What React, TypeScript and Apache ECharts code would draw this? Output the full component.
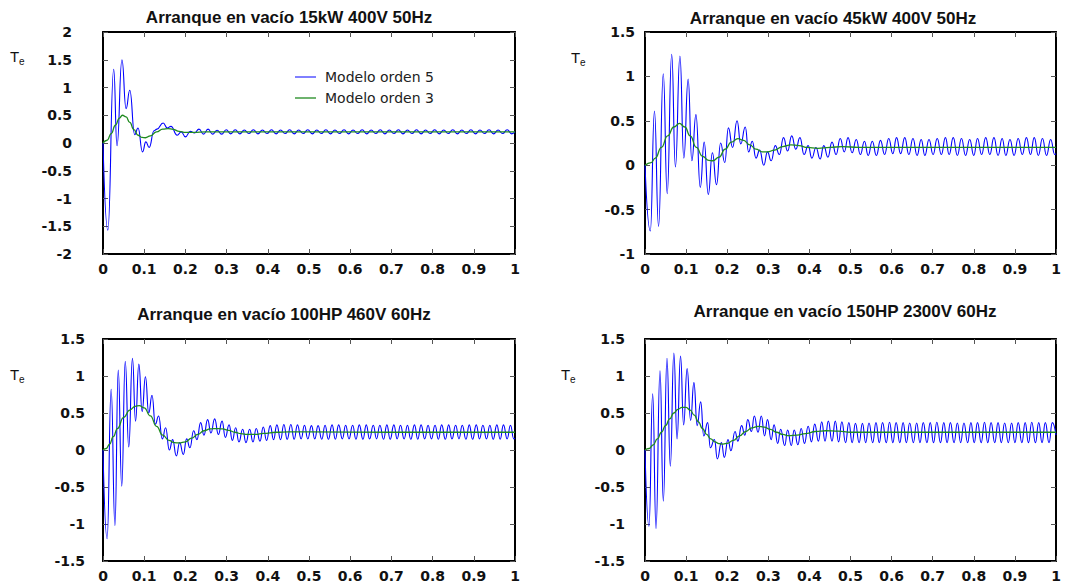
import React, { useEffect, useRef } from "react";
import * as echarts from "echarts";

// ---------- data ----------
const titles = [
  "Arranque en vacío 15kW 400V 50Hz",
  "Arranque en vacío 45kW 400V 50Hz",
  "Arranque en vacío 100HP 460V 60Hz",
  "Arranque en vacío 150HP 2300V 60Hz",
];
const seriesNames = ["Modelo orden 5", "Modelo orden 3"];
const yMins = [-2, -1, -1.5, -1.5];
const yMaxs = [2, 1.5, 1.5, 1.5];

const p1Blue: [number, number][] = [
  [0, 0], [0.0117, -1.57], [0.026, 1.33], [0.034, -0.05], [0.046, 1.5], [0.056, 0.62], [0.065, 0.95],
  [0.077, 0.15], [0.085, 0.27], [0.096, -0.16], [0.104, 0.02], [0.112, -0.08], [0.124, 0.22], [0.131, 0.25],
  [0.146, 0.36], [0.156, 0.27], [0.165, 0.3], [0.18, 0.14], [0.19, 0.2], [0.2, 0.11], [0.212, 0.21], [0.222, 0.18],
  [0.233, 0.25], [0.244, 0.16], [0.255, 0.25], [0.266, 0.16], [0.277, 0.23], [0.288, 0.16], [0.299, 0.24], [0.31, 0.165],
  [0.321, 0.24], [0.332, 0.165], [0.343, 0.235], [0.354, 0.17], [0.365, 0.24], [0.376, 0.165], [0.387, 0.235], [0.398, 0.17],
  [0.409, 0.24], [0.42, 0.165], [0.431, 0.235], [0.442, 0.17], [0.453, 0.24], [0.464, 0.165], [0.475, 0.235], [0.486, 0.17],
  [0.497, 0.24], [0.508, 0.165], [0.519, 0.235], [0.53, 0.17], [0.541, 0.24], [0.552, 0.165], [0.563, 0.235], [0.574, 0.17],
  [0.585, 0.24], [0.596, 0.165], [0.607, 0.235], [0.618, 0.17], [0.629, 0.24], [0.64, 0.165], [0.651, 0.235], [0.662, 0.17],
  [0.673, 0.24], [0.684, 0.165], [0.695, 0.235], [0.706, 0.17], [0.717, 0.24], [0.728, 0.165], [0.739, 0.235], [0.75, 0.17],
  [0.761, 0.24], [0.772, 0.165], [0.783, 0.235], [0.794, 0.17], [0.805, 0.24], [0.816, 0.165], [0.827, 0.235], [0.838, 0.17],
  [0.849, 0.24], [0.86, 0.165], [0.871, 0.235], [0.882, 0.17], [0.893, 0.24], [0.904, 0.165], [0.915, 0.235], [0.926, 0.17],
  [0.937, 0.24], [0.948, 0.165], [0.959, 0.235], [0.97, 0.17], [0.981, 0.24], [0.992, 0.165], [1.0, 0.2],
];
const p1Green: [number, number][] = [
  [0, 0], [0.01, 0.05], [0.02, 0.17], [0.03, 0.32], [0.04, 0.45], [0.047, 0.5], [0.056, 0.47], [0.065, 0.37],
  [0.075, 0.24], [0.085, 0.14], [0.095, 0.1], [0.103, 0.095], [0.115, 0.13], [0.13, 0.2], [0.145, 0.25], [0.158, 0.26],
  [0.17, 0.245], [0.185, 0.21], [0.2, 0.19], [0.22, 0.19], [0.25, 0.2], [0.3, 0.2], [0.5, 0.2], [1.0, 0.2],
];

const p2Blue: [number, number][] = [
  [0, 0], [0.013, -0.74], [0.023, 0.61], [0.033, -0.69], [0.0445, 1.03], [0.054, -0.32], [0.065, 1.25], [0.074, -0.02],
  [0.085, 1.23], [0.0945, 0.08], [0.105, 0.97], [0.114, 0.05], [0.124, 0.57], [0.1345, -0.25], [0.144, 0.26], [0.154, -0.33],
  [0.164, 0.14], [0.174, -0.22], [0.184, 0.25], [0.194, 0.03], [0.203, 0.42], [0.213, 0.2], [0.224, 0.5], [0.233, 0.24],
  [0.244, 0.43], [0.252, 0.15], [0.261, 0.27], [0.27, 0.08], [0.279, 0.17], [0.289, 0.0], [0.298, 0.15], [0.307, 0.05],
  [0.317, 0.22], [0.327, 0.12], [0.337, 0.31], [0.347, 0.16], [0.357, 0.33], [0.367, 0.18], [0.377, 0.31], [0.387, 0.12],
  [0.397, 0.22], [0.406, 0.08], [0.416, 0.2], [0.426, 0.07], [0.435, 0.22], [0.445, 0.09], [0.455, 0.26], [0.465, 0.12],
  [0.475, 0.3], [0.485, 0.15], [0.494, 0.31], [0.504, 0.14], [0.514, 0.29], [0.524, 0.12], [0.534, 0.27], [0.543, 0.11],
  [0.553, 0.27], [0.563, 0.11], [0.573, 0.28], [0.583, 0.12], [0.593, 0.3], [0.603, 0.13], [0.612, 0.31], [0.622, 0.13],
  [0.632, 0.31], [0.642, 0.12], [0.652, 0.3], [0.662, 0.11], [0.672, 0.29], [0.681, 0.11], [0.691, 0.29], [0.701, 0.12],
  [0.711, 0.3], [0.721, 0.12], [0.731, 0.31], [0.74, 0.12], [0.75, 0.31], [0.76, 0.11], [0.77, 0.3], [0.78, 0.11],
  [0.79, 0.29], [0.8, 0.11], [0.809, 0.3], [0.819, 0.12], [0.829, 0.31], [0.839, 0.12], [0.849, 0.31], [0.859, 0.11],
  [0.869, 0.3], [0.878, 0.11], [0.888, 0.29], [0.898, 0.11], [0.908, 0.3], [0.918, 0.12], [0.928, 0.31], [0.938, 0.12],
  [0.947, 0.31], [0.957, 0.11], [0.967, 0.3], [0.977, 0.11], [0.987, 0.29], [0.997, 0.12], [1.0, 0.13],
];
const p2Green: [number, number][] = [
  [0, 0], [0.015, 0.03], [0.025, 0.08], [0.04, 0.2], [0.055, 0.33], [0.07, 0.43], [0.084, 0.47], [0.097, 0.43],
  [0.11, 0.33], [0.125, 0.2], [0.14, 0.1], [0.155, 0.055], [0.165, 0.05], [0.18, 0.09], [0.195, 0.18], [0.21, 0.26],
  [0.226, 0.3], [0.24, 0.28], [0.255, 0.23], [0.27, 0.18], [0.285, 0.15], [0.298, 0.15], [0.315, 0.17], [0.335, 0.21],
  [0.355, 0.23], [0.375, 0.22], [0.395, 0.2], [0.42, 0.19], [0.45, 0.2], [0.48, 0.21], [0.52, 0.2], [0.7, 0.2], [1.0, 0.2],
];

const p3Blue: [number, number][] = [
  [0, 0], [0.01, -1.2], [0.0198, 0.82], [0.029, -1.02], [0.037, 1.08], [0.0455, -0.49], [0.054, 1.2], [0.0625, 0.04],
  [0.0715, 1.24], [0.079, 0.39], [0.087, 1.16], [0.095, 0.52], [0.103, 0.99], [0.111, 0.5], [0.119, 0.74], [0.127, 0.35],
  [0.135, 0.46], [0.144, 0.15], [0.152, 0.3], [0.161, 0.0], [0.169, 0.14], [0.178, -0.08], [0.186, 0.1], [0.195, -0.06],
  [0.203, 0.15], [0.211, 0.03], [0.22, 0.26], [0.228, 0.14], [0.237, 0.37], [0.245, 0.2], [0.254, 0.41], [0.262, 0.23],
  [0.271, 0.42], [0.28, 0.21], [0.289, 0.39], [0.297, 0.17], [0.306, 0.34], [0.314, 0.13], [0.322, 0.3], [0.33, 0.11],
  [0.339, 0.28], [0.347, 0.1], [0.356, 0.28], [0.364, 0.11], [0.372, 0.29], [0.381, 0.12], [0.389, 0.31], [0.397, 0.13],
  [0.406, 0.33], [0.414, 0.14], [0.422, 0.34], [0.431, 0.14], [0.439, 0.345], [0.447, 0.145], [0.456, 0.345], [0.464, 0.145],
  [0.472, 0.34], [0.481, 0.15], [0.489, 0.335], [0.497, 0.15], [0.506, 0.33], [0.514, 0.15], [0.522, 0.33], [0.531, 0.145],
  [0.539, 0.335], [0.547, 0.145], [0.556, 0.34], [0.564, 0.145], [0.572, 0.34], [0.581, 0.15], [0.589, 0.335], [0.597, 0.15],
  [0.606, 0.335], [0.614, 0.145], [0.622, 0.34], [0.631, 0.145], [0.639, 0.34], [0.647, 0.15], [0.656, 0.335], [0.664, 0.15],
  [0.672, 0.335], [0.681, 0.145], [0.689, 0.34], [0.697, 0.145], [0.706, 0.34], [0.714, 0.15], [0.722, 0.335], [0.731, 0.15],
  [0.739, 0.335], [0.747, 0.145], [0.756, 0.34], [0.764, 0.145], [0.772, 0.34], [0.781, 0.15], [0.789, 0.335], [0.797, 0.15],
  [0.806, 0.335], [0.814, 0.145], [0.822, 0.34], [0.831, 0.145], [0.839, 0.34], [0.847, 0.15], [0.856, 0.335], [0.864, 0.15],
  [0.872, 0.335], [0.881, 0.145], [0.889, 0.34], [0.897, 0.145], [0.906, 0.34], [0.914, 0.15], [0.922, 0.335], [0.931, 0.15],
  [0.939, 0.335], [0.947, 0.145], [0.956, 0.34], [0.964, 0.145], [0.972, 0.34], [0.981, 0.15], [0.989, 0.335], [0.997, 0.15],
  [1.0, 0.16],
];
const p3Green: [number, number][] = [
  [0, 0], [0.008, 0.02], [0.016, 0.08], [0.025, 0.18], [0.035, 0.29], [0.05, 0.44], [0.065, 0.54], [0.078, 0.59],
  [0.088, 0.6], [0.1, 0.57], [0.115, 0.46], [0.13, 0.32], [0.145, 0.2], [0.16, 0.13], [0.173, 0.1], [0.185, 0.095],
  [0.2, 0.11], [0.215, 0.16], [0.23, 0.21], [0.245, 0.26], [0.26, 0.285], [0.275, 0.29], [0.29, 0.285], [0.305, 0.265],
  [0.32, 0.24], [0.335, 0.22], [0.35, 0.21], [0.37, 0.21], [0.39, 0.225], [0.42, 0.24], [0.45, 0.245], [0.5, 0.245],
  [0.7, 0.24], [1.0, 0.24],
];

const p4Blue: [number, number][] = [
  [0, 0], [0.0097, -1.03], [0.0187, 0.76], [0.0268, -1.06], [0.0365, 1.07], [0.0446, -0.69], [0.0535, 1.24], [0.0616, -0.22],
  [0.0702, 1.31], [0.078, 0.15], [0.0865, 1.27], [0.094, 0.34], [0.1025, 1.1], [0.111, 0.4], [0.119, 0.91], [0.127, 0.33],
  [0.1355, 0.65], [0.143, 0.19], [0.1525, 0.37], [0.159, 0.03], [0.169, 0.14], [0.176, -0.12], [0.186, 0.1], [0.193, -0.1],
  [0.202, 0.14], [0.209, -0.01], [0.219, 0.25], [0.226, 0.12], [0.235, 0.33], [0.243, 0.2], [0.25, 0.41], [0.259, 0.25],
  [0.266, 0.46], [0.275, 0.24], [0.283, 0.46], [0.291, 0.19], [0.298, 0.41], [0.307, 0.14], [0.314, 0.34], [0.323, 0.09],
  [0.33, 0.28], [0.34, 0.06], [0.347, 0.27], [0.356, 0.06], [0.363, 0.27], [0.372, 0.07], [0.38, 0.29], [0.388, 0.09],
  [0.397, 0.32], [0.405, 0.11], [0.413, 0.35], [0.422, 0.12], [0.43, 0.38], [0.438, 0.12], [0.446, 0.39], [0.455, 0.12],
  [0.463, 0.39], [0.471, 0.11], [0.479, 0.38], [0.488, 0.1], [0.496, 0.37], [0.504, 0.1], [0.512, 0.36], [0.521, 0.1],
  [0.529, 0.36], [0.537, 0.1], [0.545, 0.365], [0.554, 0.1], [0.562, 0.37], [0.57, 0.1], [0.578, 0.37], [0.587, 0.1],
  [0.595, 0.375], [0.603, 0.1], [0.611, 0.37], [0.62, 0.1], [0.628, 0.37], [0.636, 0.1], [0.644, 0.365], [0.653, 0.1],
  [0.661, 0.365], [0.669, 0.1], [0.677, 0.37], [0.686, 0.1], [0.694, 0.37], [0.702, 0.1], [0.71, 0.375], [0.719, 0.1],
  [0.727, 0.37], [0.735, 0.1], [0.743, 0.37], [0.752, 0.1], [0.76, 0.365], [0.768, 0.1], [0.776, 0.365], [0.785, 0.1],
  [0.793, 0.37], [0.801, 0.1], [0.809, 0.37], [0.818, 0.1], [0.826, 0.375], [0.834, 0.1], [0.842, 0.37], [0.851, 0.1],
  [0.859, 0.37], [0.867, 0.1], [0.875, 0.365], [0.884, 0.1], [0.892, 0.365], [0.9, 0.1], [0.908, 0.37], [0.917, 0.1],
  [0.925, 0.37], [0.933, 0.1], [0.941, 0.375], [0.95, 0.1], [0.958, 0.37], [0.966, 0.1], [0.974, 0.37], [0.983, 0.1],
  [0.991, 0.37], [1.0, 0.2],
];
const p4Green: [number, number][] = [
  [0, 0], [0.01, 0.02], [0.02, 0.07], [0.03, 0.15], [0.04, 0.24], [0.05, 0.33], [0.06, 0.42], [0.07, 0.5],
  [0.08, 0.55], [0.09, 0.575], [0.1, 0.575], [0.11, 0.54], [0.12, 0.47], [0.13, 0.38], [0.14, 0.29], [0.15, 0.21],
  [0.16, 0.15], [0.17, 0.11], [0.18, 0.085], [0.19, 0.08], [0.2, 0.09], [0.215, 0.13], [0.23, 0.19], [0.245, 0.25],
  [0.26, 0.3], [0.275, 0.32], [0.29, 0.31], [0.305, 0.28], [0.32, 0.24], [0.335, 0.21], [0.35, 0.195], [0.37, 0.2],
  [0.39, 0.22], [0.415, 0.25], [0.44, 0.26], [0.47, 0.255], [0.5, 0.24], [0.7, 0.24], [1.0, 0.24],
];

const blueSeries = [p1Blue, p2Blue, p3Blue, p4Blue];
const greenSeries = [p1Green, p2Green, p3Green, p4Green];

// ---------- layout ----------
const grids = [
  { left: 103, top: 32, width: 412, height: 222 },
  { left: 645, top: 32, width: 411, height: 222 },
  { left: 103, top: 339, width: 412, height: 222 },
  { left: 645, top: 339, width: 411, height: 222 },
];
const yLabelMargins = [31, 10, 18, 20];
const titlePos = [
  [289, 17],
  [833, 18],
  [284, 314],
  [845, 311],
];
const tePos = [
  [10, 56],
  [571, 57],
  [10, 374],
  [561, 374],
];

const BLUE = "#0000ff";
const GREEN = "#1f8a1f";
const TICK_FONT = "DejaVu Sans";

export default function App() {
  const ref = useRef<HTMLDivElement>(null);
  useEffect(() => {
    if (!ref.current) return;
    const chart = echarts.init(ref.current, null, { renderer: "svg", width: 1065, height: 584 });

    const xAxis: any[] = [];
    const yAxis: any[] = [];
    const series: any[] = [];
    const graphic: any[] = [];

    const axisLine = { show: true, onZero: false, lineStyle: { color: "#000", width: 2 } };
    const tick = { show: true, inside: true, length: 5, lineStyle: { color: "#555", width: 1 } };

    grids.forEach((g, i) => {
      xAxis.push({
        gridIndex: i, type: "value", position: "bottom", min: 0, max: 1, interval: 0.1,
        axisLine, axisTick: tick, splitLine: { show: false },
        axisLabel: { margin: 8, fontFamily: TICK_FONT, fontWeight: "bold", fontSize: 14, color: "#111" },
      });
      xAxis.push({
        gridIndex: i, type: "value", position: "top", min: 0, max: 1, interval: 0.1,
        axisLine, axisTick: tick, splitLine: { show: false }, axisLabel: { show: false },
      });
      yAxis.push({
        gridIndex: i, type: "value", position: "left", min: yMins[i], max: yMaxs[i], interval: 0.5,
        axisLine, axisTick: tick, splitLine: { show: false },
        axisLabel: {
          margin: yLabelMargins[i], fontFamily: TICK_FONT, fontWeight: "bold", fontSize: 14, color: "#111",
          padding: [9, 0, 0, 0],
        },
      });
      yAxis.push({
        gridIndex: i, type: "value", position: "right", min: yMins[i], max: yMaxs[i], interval: 0.5,
        axisLine, axisTick: tick, splitLine: { show: false }, axisLabel: { show: false },
      });
      series.push({
        type: "line", name: seriesNames[0], xAxisIndex: 2 * i, yAxisIndex: 2 * i,
        data: blueSeries[i], showSymbol: false, symbol: "none", smooth: 0.5, smoothMonotone: "x",
        lineStyle: { color: BLUE, width: 1.1 }, itemStyle: { color: BLUE }, silent: true,
      });
      series.push({
        type: "line", name: seriesNames[1], xAxisIndex: 2 * i, yAxisIndex: 2 * i,
        data: greenSeries[i], showSymbol: false, symbol: "none", smooth: 0.5, smoothMonotone: "x",
        lineStyle: { color: GREEN, width: 1.3 }, itemStyle: { color: GREEN }, silent: true,
      });
      graphic.push({
        type: "text", x: titlePos[i][0], y: titlePos[i][1],
        style: {
          text: titles[i], fontFamily: "Liberation Sans", fontWeight: "bold", fontSize: 17, fill: "#111",
          textAlign: "center", textVerticalAlign: "middle", align: "center", verticalAlign: "middle",
        },
      });
      graphic.push({
        type: "text", x: tePos[i][0], y: tePos[i][1],
        style: {
          text: "T", fontFamily: "Liberation Sans", fontSize: 15, fill: "#111",
          textAlign: "left", textVerticalAlign: "middle", align: "left", verticalAlign: "middle",
        },
      });
      graphic.push({
        type: "text", x: tePos[i][0] + 9, y: tePos[i][1] + 5,
        style: {
          text: "e", fontFamily: "Liberation Sans", fontSize: 10, fill: "#111",
          textAlign: "left", textVerticalAlign: "middle", align: "left", verticalAlign: "middle",
        },
      });
    });

    // legend (first panel)
    const legendRows = [
      { name: seriesNames[0], color: BLUE, y: 77 },
      { name: seriesNames[1], color: GREEN, y: 98 },
    ];
    legendRows.forEach((r) => {
      graphic.push({
        type: "line", shape: { x1: 295, y1: r.y, x2: 316, y2: r.y },
        style: { stroke: r.color, lineWidth: r.color === BLUE ? 1 : 1.3 },
      });
      graphic.push({
        type: "text", x: 325, y: r.y,
        style: {
          text: r.name, fontFamily: "DejaVu Sans", fontSize: 14, fill: "#222",
          textAlign: "left", textVerticalAlign: "middle", align: "left", verticalAlign: "middle",
        },
      });
    });

    chart.setOption({
      animation: false,
      backgroundColor: "#ffffff",
      grid: grids.map((g) => ({ ...g, containLabel: false })),
      xAxis,
      yAxis,
      series,
      graphic,
    });
    return () => chart.dispose();
  }, []);
  return (
    <div
      ref={ref}
      style={{ position: "fixed", left: 0, top: 0, width: 1065, height: 584, background: "#fff" }}
    />
  );
}
